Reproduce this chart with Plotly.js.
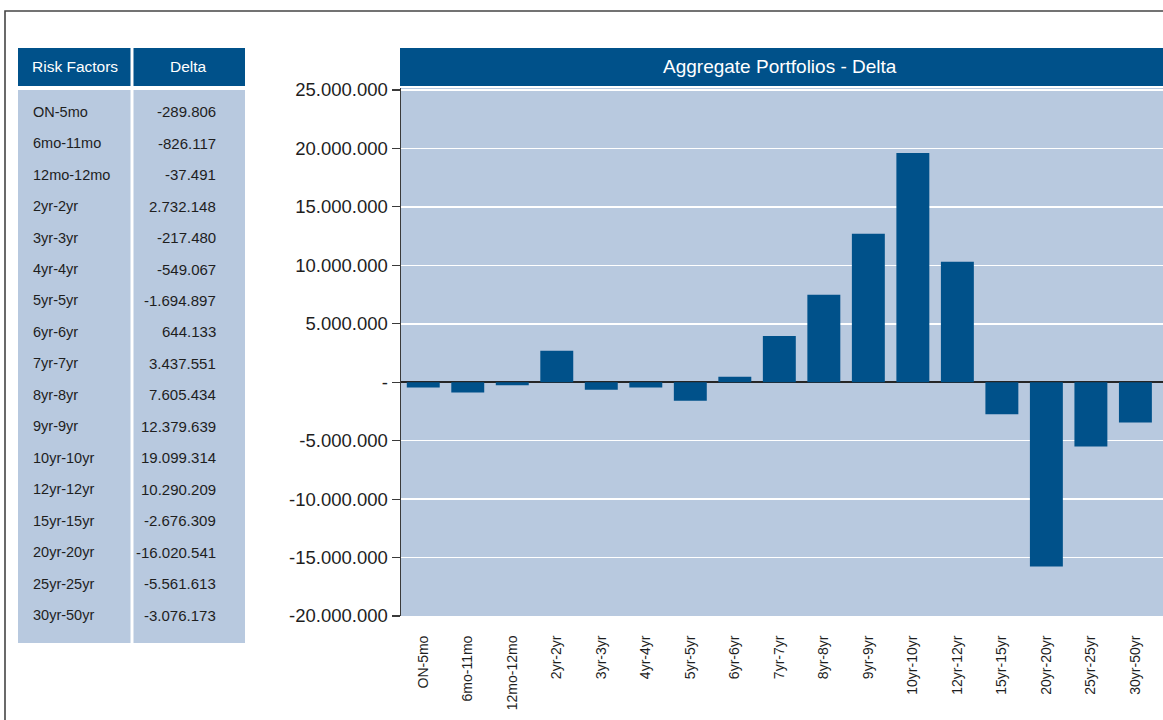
<!DOCTYPE html>
<html>
<head>
<meta charset="utf-8">
<script src="https://cdn.plot.ly/plotly-3.0.1.min.js"></script>
<style>
  html, body { margin: 0; padding: 0; background: #ffffff; }
  #chart { width: 1163px; height: 720px; }
</style>
</head>
<body>
<div id="chart"></div>
<script>
// ---- data ----
const riskFactors = ['ON-5mo', '6mo-11mo', '12mo-12mo', '2yr-2yr', '3yr-3yr', '4yr-4yr', '5yr-5yr', '6yr-6yr', '7yr-7yr', '8yr-8yr', '9yr-9yr', '10yr-10yr', '12yr-12yr', '15yr-15yr', '20yr-20yr', '25yr-25yr', '30yr-50yr'];
// values printed in the table
const tableDelta = [-289806, -826117, -37491, 2732148, -217480, -549067, -1694897, 644133, 3437551, 7605434, 12379639, 19099314, 10290209, -2676309, -16020541, -5561613, -3076173];
// bar heights as drawn in the chart
const barDelta = [-450000, -870000, -270000, 2700000, -640000, -450000, -1580000, 470000, 3950000, 7490000, 12700000, 19600000, 10300000, -2750000, -15760000, -5490000, -3440000];
const yTickVals = [-20000000, -15000000, -10000000, -5000000, 0, 5000000, 10000000, 15000000, 20000000, 25000000];
const yTickText = ['-20.000.000', '-15.000.000', '-10.000.000', '-5.000.000', '-', '5.000.000', '10.000.000', '15.000.000', '20.000.000', '25.000.000'];
const tableHeaders = ['Risk Factors', 'Delta'];
const chartTitle = 'Aggregate Portfolios - Delta';

// ---- style ----
const FONT = '"Liberation Sans", Arial, sans-serif';
const DARK_BLUE = '#00518a';
const LIGHT_BLUE = '#b8c9df';
const TEXT = '#1e1e1e';

const W = 1163, H = 720;
const M = { l: 401, r: 0, t: 88, b: 104 };
const PW = W - M.l - M.r, PH = H - M.t - M.b;
const px = v => (v - M.l) / PW;
const py = v => (H - M.b - v) / PH;

function fmt(n) {
  const s = Math.abs(n).toString().replace(/\B(?=(\d{3})+(?!\d))/g, '.');
  return (n < 0 ? '-' : '') + s;
}

function rect(x0, y0, x1, y1, fill, line) {
  return {
    type: 'rect', xref: 'paper', yref: 'paper',
    x0: px(x0), x1: px(x1), y0: py(y1), y1: py(y0),
    fillcolor: fill || 'rgba(0,0,0,0)',
    line: line || { width: 0 },
    layer: 'above'
  };
}

const shapes = [
  // outer frame
  rect(5, 11, 1175, 735, null, { color: '#454545', width: 1.6 }),
  // table header cells
  rect(18, 48, 130.5, 86, DARK_BLUE),
  rect(133.5, 48, 245, 86, DARK_BLUE),
  // table body cells
  rect(18, 90, 130.5, 643, LIGHT_BLUE),
  rect(133.5, 90, 245, 643, LIGHT_BLUE),
  // chart title bar
  rect(400, 48, 1163, 86, DARK_BLUE)
];

const annotations = [];
annotations.push({
  xref: 'paper', yref: 'paper', x: px(74.5), y: py(67), xanchor: 'center', yanchor: 'middle',
  text: tableHeaders[0], showarrow: false, font: { family: FONT, size: 15.5, color: '#ffffff' }
});
annotations.push({
  xref: 'paper', yref: 'paper', x: px(189), y: py(67), xanchor: 'center', yanchor: 'middle',
  text: tableHeaders[1], showarrow: false, font: { family: FONT, size: 15.5, color: '#ffffff' }
});
annotations.push({
  xref: 'paper', yref: 'paper', x: px(780), y: py(67), xanchor: 'center', yanchor: 'middle',
  text: chartTitle, showarrow: false, font: { family: FONT, size: 19, color: '#ffffff' }
});
riskFactors.forEach((name, i) => {
  const yc = 111.7 + i * 31.46;
  annotations.push({
    xref: 'paper', yref: 'paper', x: px(31), y: py(yc), xanchor: 'left', yanchor: 'middle',
    text: name, showarrow: false, font: { family: FONT, size: 14.5, color: TEXT }
  });
  annotations.push({
    xref: 'paper', yref: 'paper', x: px(218), y: py(yc), xanchor: 'right', yanchor: 'middle',
    text: fmt(tableDelta[i]), showarrow: false, font: { family: FONT, size: 15, color: TEXT }
  });
});

const trace = {
  type: 'bar',
  x: riskFactors,
  y: barDelta,
  marker: { color: DARK_BLUE, line: { width: 0 } },
  hoverinfo: 'x+y'
};

const layout = {
  width: W, height: H,
  margin: M,
  paper_bgcolor: '#ffffff',
  plot_bgcolor: LIGHT_BLUE,
  showlegend: false,
  bargap: 0.26,
  font: { family: FONT, color: TEXT },
  xaxis: {
    type: 'category',
    range: [-0.5, 16.62],
    showgrid: false,
    showline: false,
    zeroline: false,
    tickangle: -90,
    ticks: 'outside', ticklen: 13, tickcolor: 'rgba(0,0,0,0)',
    tickfont: { family: FONT, size: 14, color: TEXT },
    fixedrange: true
  },
  yaxis: {
    range: [-20000000, 25170000],
    tickvals: yTickVals,
    ticktext: yTickText,
    showgrid: true, gridcolor: '#ffffff', gridwidth: 1.6,
    zeroline: true, zerolinecolor: '#262626', zerolinewidth: 2.5,
    showline: true, linecolor: '#3a3a3a', linewidth: 1.5,
    ticks: 'outside', ticklen: 8, tickcolor: '#3a3a3a', tickwidth: 1.2,
    tickfont: { family: FONT, size: 18.5, color: TEXT },
    fixedrange: true
  },
  shapes: shapes,
  annotations: annotations
};

Plotly.newPlot('chart', [trace], layout, { displayModeBar: false, staticPlot: true });
</script>
</body>
</html>
